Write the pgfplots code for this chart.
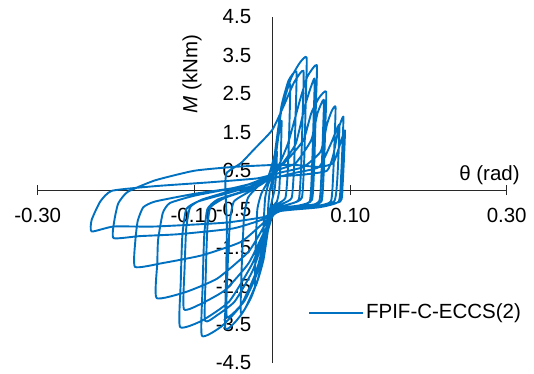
\documentclass[border=0pt]{standalone}
\usepackage{pgfplots}
\pgfplotsset{compat=1.18}
\usepackage{fontspec}
\setmainfont{Liberation Sans}
\definecolor{exblue}{RGB}{0,112,192}
\definecolor{axgray}{RGB}{40,40,40}
\begin{document}
\fontsize{20.5bp}{24bp}\selectfont
\begin{tikzpicture}
\begin{axis}[
 at={(0,0)}, anchor=south west,
 scale only axis, width=469bp, height=346bp,
 xmin=-0.3, xmax=0.3, ymin=-4.5, ymax=4.5,
 axis lines=middle,
 axis line style={-, axgray, line width=1bp},
 clip=false,
 xtick={-0.3,-0.1,0.1,0.3},
 xticklabels={-0.30,-0.10,0.10,0.30},
 ytick={-4.5,-3.5,-2.5,-1.5,-0.5,0.5,1.5,2.5,3.5,4.5},
 yticklabels={-4.5,-3.5,-2.5,-1.5,-0.5,0.5,1.5,2.5,3.5,4.5},
 major tick length=10bp, tick align=center,
 xtick style={axgray, line width=1bp},
 ytick style={draw=none},
 xticklabel style={anchor=north, yshift=-6bp},
 yticklabel style={anchor=east, xshift=-9bp},
 legend style={at={(axis cs:0.0458,-3.2)}, anchor=west, draw=none, fill=none, inner sep=0pt},
 legend image code/.code={\draw[#1] (0bp,0bp) -- (54bp,0bp);},
]
\addplot[exblue, line width=1.9bp, smooth, tension=0.3, line join=round] coordinates {
(0,0) (0.003,0.55) (0.006,1.0) (0.005,0.4) (0.003,0.0) (0.0,-0.25) (-0.003,-0.55) (-0.006,-1.0) (-0.005,-0.4) (-0.003,0.0) (0.0,0.25)
(0.004,0.8) (0.008,1.4) (0.012,1.8) (0.011,0.9) (0.009,0.0) (0.006,-0.3) (0.0,-0.45) (-0.004,-0.85) (-0.008,-1.4) (-0.012,-1.8) (-0.011,-0.9) (-0.009,-0.2) (-0.005,0.15) (0.0,0.4)
(0.005,1.1) (0.011,2.0) (0.017,2.5) (0.023,2.75) (0.022,1.7) (0.020,0.5) (0.017,-0.2) (0.008,-0.35) (0.0,-0.5) (-0.005,-1.0) (-0.011,-1.8) (-0.017,-2.25) (-0.022,-2.5) (-0.021,-1.4) (-0.019,-0.5) (-0.014,-0.1) (-0.006,0.2) (0.0,0.45)
(0.005,1.2) (0.012,2.2) (0.021,2.85) (0.031,3.08) (0.030,2.0) (0.028,0.6) (0.025,-0.2) (0.014,-0.35) (0.001,-0.5) (-0.006,-1.1) (-0.015,-2.1) (-0.027,-2.8) (-0.040,-3.2) (-0.039,-2.0) (-0.036,-0.7) (-0.031,-0.2) (-0.018,0.1) (-0.005,0.35)
(0.004,1.0) (0.012,2.1) (0.024,2.9) (0.035,3.3) (0.044,3.45) (0.043,2.4) (0.041,0.8) (0.038,-0.2) (0.025,-0.35) (0.004,-0.5) (-0.006,-1.1) (-0.018,-2.3) (-0.035,-3.1) (-0.048,-3.45) (-0.060,-3.6) (-0.059,-2.3) (-0.058,-0.9) (-0.06,0.1) (-0.058,0.45) (-0.04,0.7) (-0.024,1.04) (0.0,1.56)
(0.015,2.2) (0.028,2.8) (0.040,3.1) (0.039,2.0) (0.037,0.6) (0.034,-0.25) (0.02,-0.38) (0.002,-0.55) (-0.008,-1.2) (-0.02,-2.2) (-0.036,-2.9) (-0.058,-3.3) (-0.057,-2.0) (-0.054,-0.8) (-0.049,-0.3) (-0.03,-0.05) (-0.01,0.2)
(0.005,0.5) (0.02,1.2) (0.035,2.3) (0.045,2.95) (0.057,3.25) (0.056,2.3) (0.054,0.8) (0.051,-0.25) (0.035,-0.4) (0.006,-0.5) (-0.006,-1.0) (-0.02,-2.1) (-0.04,-3.0) (-0.065,-3.55) (-0.090,-3.79) (-0.089,-2.5) (-0.087,-1.2) (-0.083,-0.5) (-0.07,-0.25) (-0.04,-0.05) (-0.012,0.25)
(0.0,0.35) (0.01,0.6) (0.03,1.2) (0.042,2.2) (0.054,2.9) (0.053,1.9) (0.051,0.6) (0.048,-0.3) (0.03,-0.42) (0.004,-0.55) (-0.008,-1.1) (-0.025,-2.1) (-0.048,-2.9) (-0.07,-3.25) (-0.086,-3.4) (-0.085,-2.2) (-0.083,-1.0) (-0.079,-0.45) (-0.06,-0.2) (-0.03,0.0) (-0.01,0.2)
(0.004,0.5) (0.02,0.8) (0.04,1.3) (0.05,2.0) (0.06,2.4) (0.069,2.56) (0.068,1.7) (0.066,0.5) (0.063,-0.3) (0.045,-0.4) (0.008,-0.5) (-0.006,-0.9) (-0.025,-1.9) (-0.055,-2.9) (-0.09,-3.4) (-0.118,-3.56) (-0.117,-2.4) (-0.115,-1.2) (-0.11,-0.5) (-0.095,-0.3) (-0.06,-0.1) (-0.02,0.15)
(0.005,0.5) (0.03,0.7) (0.05,1.3) (0.058,2.0) (0.066,2.35) (0.065,1.5) (0.063,0.4) (0.06,-0.3) (0.04,-0.45) (0.006,-0.55) (-0.008,-1.0) (-0.03,-1.9) (-0.06,-2.6) (-0.09,-2.95) (-0.113,-3.1) (-0.112,-2.0) (-0.11,-1.0) (-0.105,-0.45) (-0.09,-0.25) (-0.05,0.0) (-0.01,0.3)
(0.01,0.45) (0.04,0.6) (0.062,1.0) (0.07,1.7) (0.076,2.05) (0.081,2.17) (0.080,1.4) (0.078,0.4) (0.075,-0.3) (0.055,-0.42) (0.01,-0.5) (-0.006,-0.8) (-0.03,-1.6) (-0.07,-2.3) (-0.11,-2.65) (-0.148,-2.81) (-0.147,-1.9) (-0.146,-1.3) (-0.14,-0.6) (-0.131,-0.34) (-0.1,-0.15) (-0.05,0.05) (-0.01,0.25)
(0.008,0.35) (0.04,0.4) (0.07,0.5) (0.078,0.9) (0.085,1.6) (0.091,1.91) (0.090,1.2) (0.088,0.3) (0.085,-0.3) (0.06,-0.45) (0.01,-0.55) (-0.008,-0.8) (-0.04,-1.35) (-0.09,-1.7) (-0.14,-1.9) (-0.1755,-2.0) (-0.175,-1.3) (-0.172,-0.8) (-0.165,-0.45) (-0.15,-0.3) (-0.1,-0.1) (-0.05,0.05) (-0.01,0.25)
(0.0,0.3) (0.03,0.45) (0.06,0.6) (0.075,1.2) (0.082,1.55) (0.086,1.7) (0.085,1.0) (0.083,0.2) (0.079,-0.3) (0.05,-0.45) (0.005,-0.55) (-0.01,-0.75) (-0.05,-1.0) (-0.12,-1.15) (-0.17,-1.2) (-0.203,-1.25) (-0.202,-0.8) (-0.197,-0.35) (-0.185,-0.05) (-0.15,0.25) (-0.1,0.5) (-0.05,0.6) (0.0,0.65)
(0.03,0.65) (0.06,0.6) (0.078,0.7) (0.087,1.2) (0.093,1.55) (0.092,0.9) (0.09,0.1) (0.087,-0.3) (0.05,-0.45) (0.005,-0.55) (-0.01,-0.7) (-0.06,-0.85) (-0.15,-0.95) (-0.203,-0.95) (-0.231,-1.08) (-0.231,-0.78) (-0.22,-0.3) (-0.205,-0.02) (-0.15,0.1) (-0.08,0.2) (-0.02,0.3) (0.0,0.4)
};
\addlegendentry{FPIF-C-ECCS(2)}
\node[rotate=90] at (axis cs:-0.1026,3.02) {\textit{M} (kNm)};
\node at (axis cs:0.278,0.39) {θ (rad)};
\end{axis}
\pgfresetboundingbox
\path[use as bounding box] (-37.7bp,-11bp) rectangle (496.3bp,363bp);
\end{tikzpicture}
\end{document}
